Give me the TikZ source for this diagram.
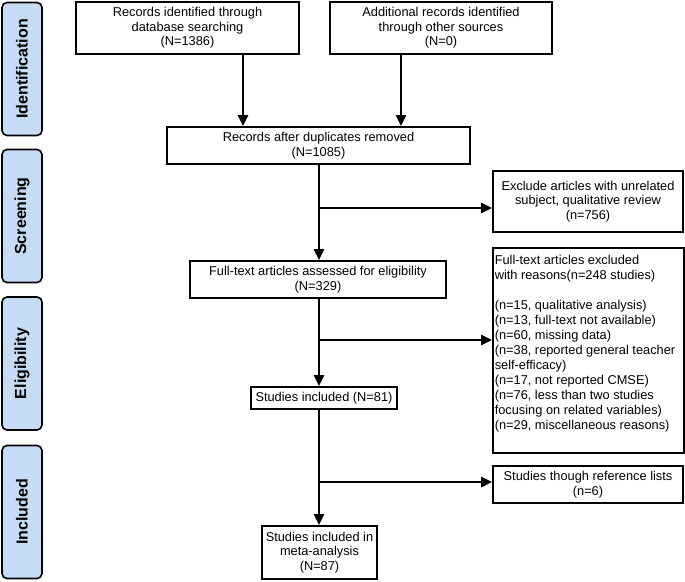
\documentclass[tikz,border=0pt]{standalone}
\usepackage{fontspec}
\setmainfont{Liberation Sans}
\usetikzlibrary{arrows.meta}
\definecolor{phasefill}{RGB}{198,219,244}
\begin{document}
\begin{tikzpicture}[x=1pt,y=-1pt,
  box/.style={draw, line width=1.6pt, align=center, inner sep=0pt,
    font=\fontsize{12.8}{14.5}\selectfont},
  phase/.style={draw, line width=1.6pt, rounded corners=5pt, fill=phasefill,
    minimum width=40pt, inner sep=0pt, font=\fontsize{16}{18}\selectfont\bfseries},
  arr/.style={line width=2.5pt, -{Triangle[length=11pt,width=10pt]}},
  ln/.style={line width=2.5pt}]
\useasboundingbox (0,0) rectangle (685,581);
% phase labels
\node[phase, minimum height=133pt] (ph1) at (22,69) {\rotatebox{90}{Identification}};
\node[phase, minimum height=133pt] (ph2) at (22,216) {\rotatebox{90}{Screening}};
\node[phase, minimum height=133pt] (ph3) at (22,363.5) {\rotatebox{90}{Eligibility}};
\node[phase, minimum height=133pt] (ph4) at (22,512) {\rotatebox{90}{Included}};
% boxes
\node[box, minimum width=223pt, minimum height=52pt] (b1) at (187.5,28)
  {Records identified through\\database searching\\(N=1386)};
\node[box, minimum width=222pt, minimum height=52pt] (b2) at (441,28)
  {Additional records identified\\through other sources\\(N=0)};
\node[box, minimum width=303pt, minimum height=37pt] (rec) at (318.5,145.5)
  {Records after duplicates removed\\(N=1085)};
\node[box, minimum width=190pt, minimum height=61pt] (excl) at (588,201.5)
  {Exclude articles with unrelated\\subject, qualitative review\\(n=756)};
\node[box, minimum width=256pt, minimum height=37pt] (full) at (318,279.5)
  {Full-text articles assessed for eligibility\\(N=329)};
\node[draw, line width=1.6pt, inner sep=0pt, anchor=north west] (ftex) at (492,247)
  {\begin{minipage}[b][205pt][t]{191pt}\raggedright\leftskip=2pt
   \fontsize{12.8}{15}\selectfont
   \vspace*{7pt}Full-text articles excluded\\
   with reasons(n=248 studies)\\[15pt]
   (n=15, qualitative analysis)\\
   (n=13, full-text not available)\\
   (n=60, missing data)\\
   (n=38, reported general teacher\\
   self-efficacy)\\
   (n=17, not reported CMSE)\\
   (n=76, less than two studies\\
   focusing on related variables)\\
   (n=29, miscellaneous reasons)\end{minipage}};
\node[box, minimum width=146pt, minimum height=22pt] (inc) at (324,398)
  {Studies included (N=81)};
\node[box, minimum width=190pt, minimum height=37pt] (ref) at (588,484.5)
  {Studies though reference lists\\(n=6)};
\node[box, minimum width=115pt, minimum height=53pt] (meta) at (319.5,552.5)
  {Studies included in\\meta-analysis\\(N=87)};
% connectors
\draw[arr] ([xshift=55.5pt]b1.south) -- ([xshift=55.5pt]b1.south |- rec.north);
\draw[arr] ([xshift=-40pt]b2.south) -- ([xshift=-40pt]b2.south |- rec.north);
\coordinate (s1) at ([xshift=0.5pt]rec.south);
\draw[arr] (s1) -- (s1 |- full.north);
\coordinate (j1) at (319,208);
\draw[arr] (j1) -- (j1 -| excl.west);
\coordinate (s2) at ([xshift=1pt]full.south);
\draw[arr] (s2) -- (s2 |- inc.north);
\coordinate (j2) at (319,340);
\draw[arr] (j2) -- (j2 -| ftex.west);
\coordinate (s3) at (319,0 |- inc.south);
\draw[arr] (s3) -- (s3 |- meta.north);
\coordinate (j3) at (319,482);
\draw[arr] (j3) -- (j3 -| ref.west);
\end{tikzpicture}
\end{document}
